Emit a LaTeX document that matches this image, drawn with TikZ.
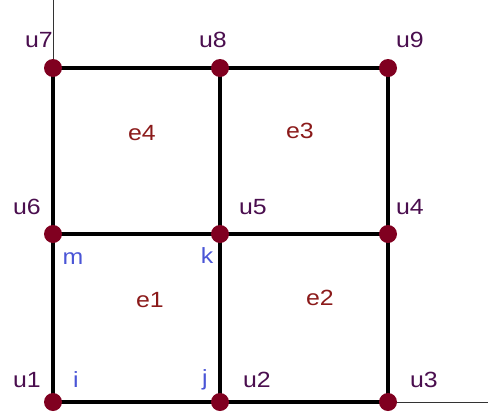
\documentclass[tikz,border=0pt]{standalone}
\usepackage{fontspec}
\setmainfont{Liberation Sans}
\definecolor{dotc}{HTML}{800020}
\definecolor{ulab}{HTML}{4A0E4E}
\definecolor{elab}{HTML}{8B1A1A}
\definecolor{blab}{HTML}{4A55D6}
\begin{document}
\begin{tikzpicture}[x=1pt,y=-1pt,
  dot/.style={circle,fill=dotc,inner sep=0pt,minimum size=18pt},
  lab/.style={font=\fontsize{22}{22}\selectfont,inner sep=0pt,xscale=1.13},
  ulabel/.style={lab,text=ulab},
  elabel/.style={lab,text=elab},
  blabel/.style={lab,text=blab},
  grid/.style={line width=3.5pt,black},
  axis/.style={line width=0.8pt,black!80}]
\useasboundingbox (0,0) rectangle (488,416);
\coordinate (top) at (53,0);
\coordinate (right) at (488,402);
\coordinate (n1) at (53,402);
\coordinate (n2) at (220,402);
\coordinate (n3) at (388,402);
\coordinate (n4) at (388,234);
\coordinate (n5) at (220,234);
\coordinate (n6) at (53,234);
\coordinate (n7) at (53,68);
\coordinate (n8) at (220,68);
\coordinate (n9) at (388,68);
\draw[axis] (top) -- (n1);
\draw[axis] (n1) -- (right);
\draw[grid] (n1) -- (n3) -- (n9) -- (n7) -- cycle;
\draw[grid] (n6) -- (n4);
\draw[grid] (n2) -- (n8);
\foreach \n in {1,...,9} \node[dot] (d\n) at (n\n) {};
\node[ulabel] (l7) at (39,40) {u7};
\node[ulabel] (l8) at (213,40) {u8};
\node[ulabel] (l9) at (410,40) {u9};
\node[ulabel] (l6) at (27,207) {u6};
\node[ulabel] (l5) at (253,207) {u5};
\node[ulabel] (l4) at (410,207) {u4};
\node[ulabel] (l1) at (27,380) {u1};
\node[ulabel] (l2) at (257,380) {u2};
\node[ulabel] (l3) at (424,380) {u3};
\node[elabel] (e4) at (142,133) {e4};
\node[elabel] (e3) at (300,131) {e3};
\node[elabel] (e1) at (150,300) {e1};
\node[elabel] (e2) at (320,298) {e2};
\node[blabel] (m) at (73,259) {m};
\node[blabel] (k) at (207,256) {k};
\node[blabel] (i) at (76,380) {i};
\node[blabel] (j) at (205,380) {j};
\end{tikzpicture}
\end{document}
